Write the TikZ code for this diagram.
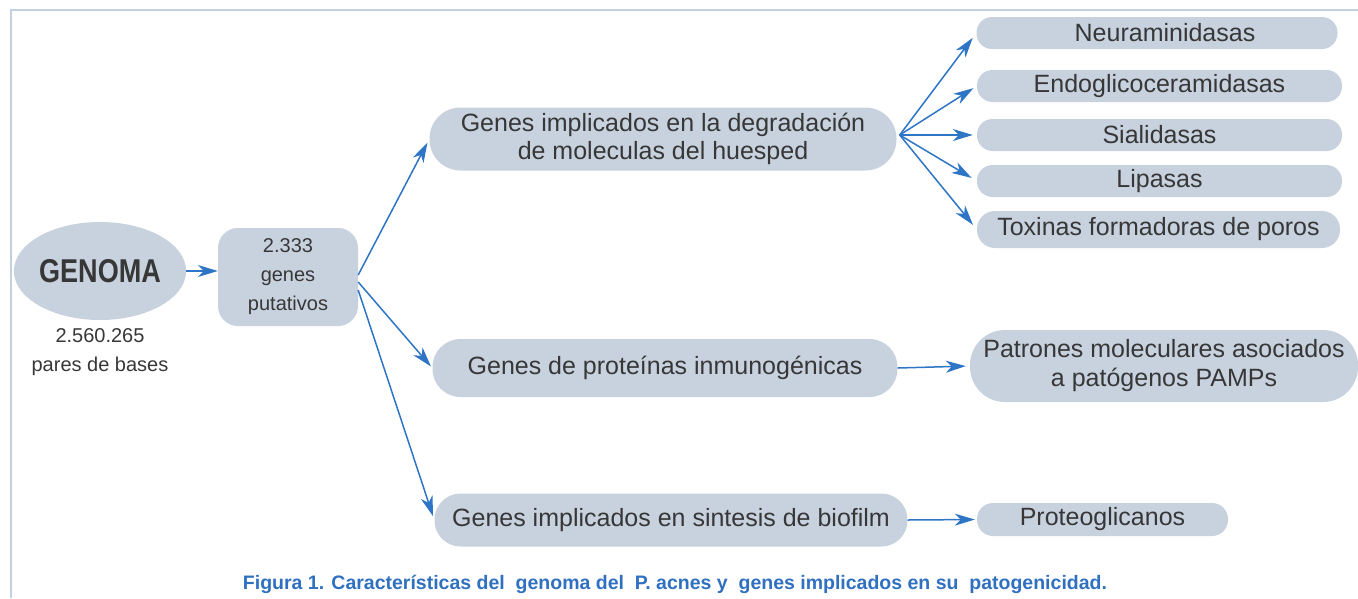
\documentclass[tikz,border=0pt]{standalone}
\usepackage{fontspec}
\setmainfont{Liberation Sans}
\usetikzlibrary{shapes.geometric}
\usetikzlibrary{arrows.meta}
\usetikzlibrary{calc}
\definecolor{GNFill}{RGB}{200,210,223}
\definecolor{GNArrow}{RGB}{46,117,198}
\definecolor{GNText}{RGB}{55,55,55}
\definecolor{GNFrame}{RGB}{196,208,224}
\definecolor{GNCaption}{RGB}{47,112,192}

\begin{document}
\begin{tikzpicture}[x=1pt,y=-1pt,
		pastilla/.style={fill=GNFill,text=GNText,rounded corners=#1,inner sep=0pt,align=center,font=\fontsize{25}{28}\selectfont},
		chico/.style={text=GNText,align=center,font=\fontsize{20}{29}\selectfont},
		flecha/.style={-{Stealth[length=20pt,width=12pt,inset=6pt]},GNArrow,line width=1.5pt}]
			\useasboundingbox (0,0) rectangle (1358,598);
			\draw[GNFrame,line width=2pt] (11,598) -- (11,10) -- (1358,10);

			\node[ellipse,fill=GNFill,minimum width=172pt,minimum height=98pt,inner sep=0pt,text=GNText,font=\bfseries\fontsize{33}{33}\selectfont] (genoma) at (100,271) {\scalebox{0.82}[1]{GENOMA}};
			\node[chico] (bases) at (100,352) {2.560.265\\pares de bases};
			\node[chico,fill=GNFill,rounded corners=20pt,minimum width=140pt,minimum height=98pt,inner sep=0pt] (putativos) at (288,277) {2.333\\genes\\putativos};

			\node[pastilla=31pt,minimum width=467pt,minimum height=63pt] (degrad) at (663,139) {Genes implicados en la degradación\\de moleculas del huesped};
			\node[pastilla=28pt,minimum width=465pt,minimum height=58pt] (inmuno) at (665,368) {Genes de proteínas inmunogénicas};
			\node[pastilla=26pt,minimum width=473pt,minimum height=53pt] (biofilm) at (671,520) {Genes implicados en sintesis de biofilm};

			\node[pastilla=15.5pt,minimum width=361pt,minimum height=32pt] (neura) at (1157,33) {\hspace*{16pt}Neuraminidasas};
			\node[pastilla=15.5pt,minimum width=365pt,minimum height=32pt] (endo) at (1159.5,86) {Endoglicoceramidasas};
			\node[pastilla=15.5pt,minimum width=365pt,minimum height=32pt] (siali) at (1159.5,135) {Sialidasas};
			\node[pastilla=15.5pt,minimum width=365pt,minimum height=32pt] (lipa) at (1159.5,181) {Lipasas};
			\node[pastilla=18pt,minimum width=363pt,minimum height=37pt] (toxi) at (1158.5,229.5) {Toxinas formadoras de poros};
			\node[pastilla=35pt,minimum width=388pt,minimum height=72pt,font=\fontsize{25}{29}\selectfont] (pamps) at (1164,366) {Patrones moleculares asociados\\a patógenos PAMPs};
			\node[pastilla=16pt,minimum width=251pt,minimum height=33pt] (proteo) at (1102.5,519.5) {Proteoglicanos};

			\coordinate (abanico) at ([xshift=3pt,yshift=4pt]degrad.east);

			\draw[flecha] (genoma.east) -- (genoma.east -| putativos.west);
			\draw[flecha,shorten >=4pt] ([yshift=2pt]putativos.east) -- (degrad.west);
			\draw[flecha,shorten >=2pt] ([yshift=-5pt]putativos.east) -- (inmuno.west);
			\draw[flecha,shorten >=4pt] ([yshift=-13pt]putativos.east) -- (biofilm.west);
			\draw[flecha,shorten >=6pt] (abanico) -- (neura.west);
			\draw[flecha,shorten >=4pt] (abanico) -- (endo.west);
			\draw[flecha,shorten >=4pt] (abanico) -- (siali.west);
			\draw[flecha,shorten >=6pt] (abanico) -- (lipa.west);
			\draw[flecha,shorten >=6pt] (abanico) -- (toxi.west);
			\draw[flecha,shorten >=4pt] (inmuno.east) -- (pamps.west);
			\draw[flecha,shorten >=2pt] (biofilm.east) -- (proteo.west);

			\node[text=GNCaption,font=\bfseries\fontsize{19.5}{20}\selectfont] (pie) at (675,584) {Figura 1. Características del\ \ genoma del\ \ P. acnes y\ \ genes implicados en su\ \ patogenicidad.};
		\end{tikzpicture}
\end{document}
